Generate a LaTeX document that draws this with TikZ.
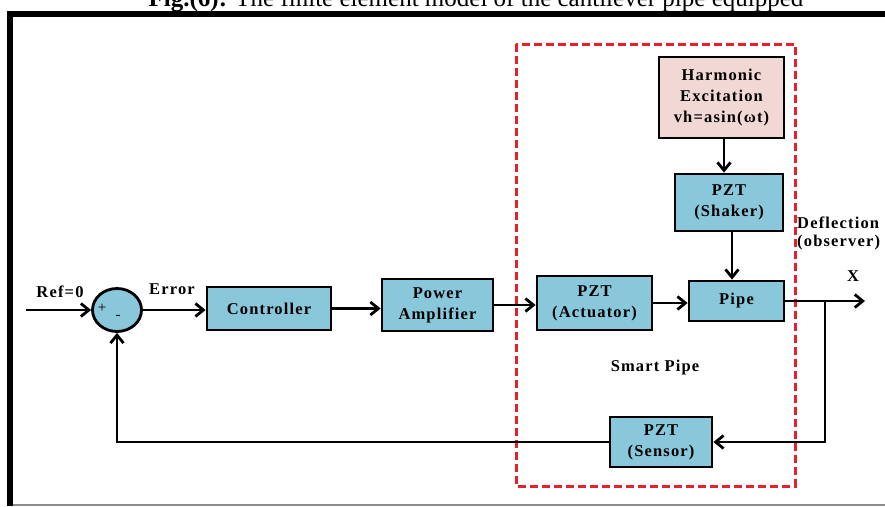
\documentclass[tikz,border=0pt]{standalone}
\usepackage{fontspec}
\setmainfont{Liberation Serif}
\newfontfamily\lblfont[LetterSpace=7]{Liberation Serif}
\usetikzlibrary{arrows.meta,shapes.geometric}
\definecolor{boxblue}{RGB}{137,199,219}
\definecolor{boxpink}{RGB}{242,216,212}
\definecolor{zoneRed}{RGB}{232,32,44}
\begin{document}
\begin{tikzpicture}[x=1pt,y=-1pt,
  lbl/.style={font=\lblfont\bfseries\fontsize{16.5}{21}\selectfont,align=center,inner sep=0pt},
  blk/.style={lbl,draw=black,line width=2.8pt,fill=boxblue},
  sign/.style={font=\fontsize{15}{15}\selectfont,inner sep=0pt},
  wire/.style={line width=2.8pt},
  arr/.style={wire,-{Straight Barb[length=8pt,width=13pt,line width=2.8pt]}}]

\useasboundingbox (0,0) rectangle (885,506);
\fill[white] (0,0) rectangle (885,506);

% caption (partly above the page edge)
\node[anchor=base,font=\fontsize{25}{29}\selectfont,inner sep=0pt] (cap) at (476,6)
  {\textbf{Fig.(6):} The finite element model of the cantilever pipe equipped};

% outer frame
\draw[black!45,line width=1.5pt] (10,505) -- (885,505);
\draw[line width=6pt] (10,506) -- (10,14) -- (885,14);

% smart pipe zone
\draw[zoneRed,line width=3pt,dash pattern=on 8pt off 4pt] (516,44) rectangle (795,486);
\node[lbl] (zone) at (655,368) {Smart Pipe};

% summing junction
\node[draw=black,line width=2.8pt,fill=boxblue,shape=ellipse,minimum width=49pt,minimum height=43pt] (sum) at (117,310) {};
\node[sign] (plus) at (102,308) {+};
\node[sign] (minus) at (118,317) {-};

% blocks
\node[blk,minimum width=124pt,minimum height=43pt] (ctrl) at (269,308.5) {Controller};
\node[blk,minimum width=111pt,minimum height=52pt] (amp) at (437.5,305) {Power\\Amplifier};
\node[blk,minimum width=115pt,minimum height=54pt] (act) at (594.5,303) {PZT\\(Actuator)};
\node[blk,minimum width=95pt,minimum height=40pt] (pipe) at (736.5,301) {Pipe};
\node[blk,minimum width=108pt,minimum height=57pt] (shaker) at (729,202.5) {PZT\\(Shaker)};
\node[blk,fill=boxpink,minimum width=125pt,minimum height=81pt] (harm) at (721.5,97.5) {Harmonic\\Excitation\\vh=asin(ωt)};
\node[blk,minimum width=102pt,minimum height=50pt] (sensor) at (661,442) {PZT\\(Sensor)};

% labels
\node[lbl] (ref) at (60,292) {Ref=0};
\node[lbl] (err) at (172,289) {Error};
\node[lbl,anchor=west] (defl) at (797,223) {Deflection};
\node[lbl,anchor=west] (obs) at (797,243) {(observer)};
\node[lbl] (xlab) at (853,276) {X};

% signal paths
\coordinate (refin) at (26,310);
\coordinate (xout) at (865,301);
\coordinate (tap) at (825,301);
\draw[arr] (refin) -- (sum.west);
\draw[arr] (sum.east) -- (sum.east -| ctrl.west);
\draw[arr] (ctrl.east) -- (ctrl.east -| amp.west);
\draw[arr] (amp.east) -- (amp.east -| act.west);
\draw[arr] (act.east) -- (act.east -| pipe.west);
\draw[arr] (pipe.east) -- (xout);
\draw[arr] ([xshift=2.5pt]harm.south) -- ([xshift=2.5pt]harm.south |- shaker.north);
\draw[arr] ([xshift=3pt]shaker.south) -- ([xshift=3pt]shaker.south |- pipe.north);
\draw[arr] (tap) |- (sensor.east);
\draw[arr] (sensor.west) -| (sum.south);
\end{tikzpicture}
\end{document}
